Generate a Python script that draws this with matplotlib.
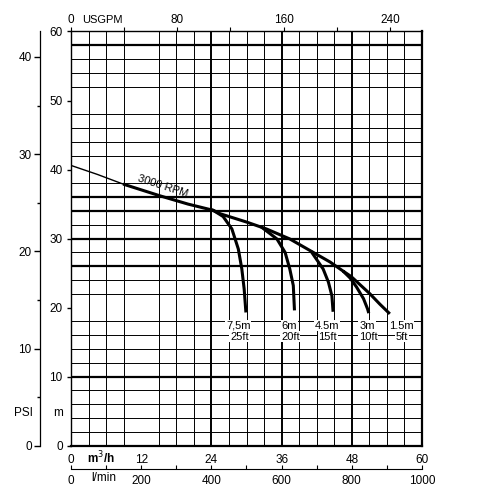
import numpy as np
import matplotlib.pyplot as plt

plt.rcParams['font.family'] = ['Liberation Sans', 'DejaVu Sans']

# flow in m3/h, head in m
main_q = [0, 4.5, 8.9, 15.2, 20.0, 24.3]
main_h = [40.6, 39.3, 37.9, 36.2, 35.0, 34.1]

# common upper part after the 7.5 m branch
upper_q = [24.3, 25.5, 30.0, 33.4, 37.4, 41.0, 44.3, 46.5]
upper_h = [34.1, 33.6, 32.4, 31.4, 29.95, 28.2, 26.6, 25.3]

branch_q = {
    '7,5m': [24.3, 26.0, 27.5, 28.6, 29.2, 29.6, 29.9],
    '6m': [32.5, 34.2, 35.2, 36.6, 37.4, 38.0, 38.2],
    '4.5m': [41.0, 43.1, 44.0, 44.6, 44.8],
    '3m': [46.5, 47.7, 48.8, 50.0, 50.7, 50.9],
    '1.5m': [46.5, 47.9, 51.1, 52.8, 54.5],
}
branch_h = {
    '7,5m': [34.1, 33.2, 31.4, 28.5, 25.6, 22.7, 19.3],
    '6m': [31.7, 30.6, 29.95, 28.0, 25.6, 23.2, 19.6],
    '4.5m': [28.2, 25.6, 23.7, 21.7, 19.4],
    '3m': [25.3, 24.3, 23.0, 21.3, 19.8, 19.2],
    '1.5m': [25.3, 24.5, 22.0, 20.5, 19.1],
}
labels_ft = {'7,5m': '25ft', '6m': '20ft', '4.5m': '15ft', '3m': '10ft', '1.5m': '5ft'}
label_x = {'7,5m': 28.6, '6m': 37.3, '4.5m': 43.7, '3m': 50.6, '1.5m': 56.4}

thick_h = [58, 36, 34, 30, 26, 10]
thick_q = [24, 36, 48]

fig = plt.figure(figsize=(4.87, 4.98), dpi=100)
ax = fig.add_axes([71/487, 1-445.7/498, 351/487, 414.2/498])
ax.set_xlim(0, 60)
ax.set_ylim(0, 60)

# grid
ax.set_xticks(np.arange(0, 61, 3), minor=True)
ax.set_yticks(np.arange(0, 61, 2), minor=True)
ax.grid(which='minor', color='k', lw=0.7)
ax.tick_params(which='minor', length=0)
for h in thick_h:
    ax.axhline(h, color='k', lw=1.6)
for q in thick_q:
    ax.axvline(q, color='k', lw=1.4)
for s in ['left', 'top']:
    ax.spines[s].set_linewidth(1.0)
for s in ['right', 'bottom']:
    ax.spines[s].set_linewidth(1.6)

# left m axis
ax.set_yticks(np.arange(0, 61, 10))
ax.tick_params(axis='y', length=3, width=1, pad=3, labelsize=8.5)

# bottom m3/h axis
ax.set_xticks(np.arange(0, 61, 12))
ax.tick_params(axis='x', length=0, pad=6, labelsize=8.5)
ax.text(5.2, -1.75, 'm$^3$/h', ha='center', va='center', fontsize=8.5,
        fontweight='bold', clip_on=False)

# top USGPM axis
top = ax.secondary_xaxis('top', functions=(lambda q: q * 4.403, lambda g: g / 4.403))
top.set_xticks(np.arange(0, 241, 40))
top.set_xticklabels(['0', '', '80', '', '160', '', '240'])
top.tick_params(length=3, width=0.8, pad=1, labelsize=8.5)
top.spines['top'].set_visible(False)
ax.text(5.3, 61.6, 'USGPM', ha='center', va='center', fontsize=8)

# l/min axis
lmin = ax.secondary_xaxis(-23.3/414.2, functions=(lambda q: q * 16.667, lambda l: l / 16.667))
lmin.set_xticks(np.arange(0, 1001, 100))
lmin.set_xticklabels(['0', '', '200', '', '400', '', '600', '', '800', '', '1000'])
lmin.tick_params(direction='in', length=3, width=0.8, pad=4, labelsize=8.5)
ax.text(5.6, -4.75, 'l/min', ha='center', va='center', fontsize=8.5,
        clip_on=False)

# PSI axis
psi = ax.twinx()
psi.set_ylim(0, 60 * 0.7104)
psi.spines['left'].set_position(('axes', -31/351))
psi.spines['left'].set_visible(True)
psi.spines['left'].set_linewidth(0.9)
for s in ['right', 'top', 'bottom']:
    psi.spines[s].set_visible(False)
psi.yaxis.set_ticks_position('left')
psi.set_yticks(np.arange(0, 41, 10))
psi.set_yticks(np.arange(0, 41, 5), minor=True)
psi.tick_params(axis='y', which='major', length=4, width=1, pad=2, labelsize=8.5)
psi.tick_params(axis='y', which='minor', length=2, width=1)
ax.text(-8.1, 4.8, 'PSI', ha='center', va='center', fontsize=8.5)
ax.text(-2.2, 4.8, 'm', ha='center', va='center', fontsize=8.5)

# curves
ax.plot(main_q, main_h, color='k', lw=1.0, zorder=5)
ax.plot(main_q[2:], main_h[2:], color='k', lw=2.2, zorder=5,
        solid_capstyle='butt')
ax.plot(upper_q, upper_h, color='k', lw=2.2, zorder=5)
for name in branch_q:
    ax.plot(branch_q[name], branch_h[name], color='k', lw=2.2, zorder=5,
            solid_capstyle='butt')
    box = dict(facecolor='white', edgecolor='none', pad=0.6)
    ax.text(label_x[name], 17.4, name, ha='center', va='center', fontsize=8,
            bbox=box, zorder=6, clip_on=False)
    ax.text(label_x[name] + 0.2, 15.8, labels_ft[name], ha='center', va='center',
            fontsize=8, bbox=box, zorder=6, clip_on=False)

ax.text(15.7, 37.6, '3000 RPM', ha='center', va='center', fontsize=8,
        rotation=-18, zorder=6)

fig.savefig('out.png', dpi=100)
